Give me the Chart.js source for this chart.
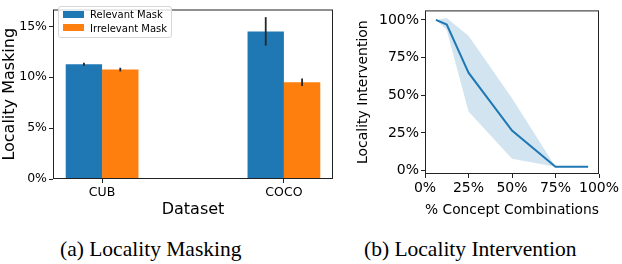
<!DOCTYPE html>
<html>
<head>
<meta charset="utf-8">
<script src="https://cdn.jsdelivr.net/npm/chart.js@4/dist/chart.umd.min.js"></script>
<style>
  html, body { margin:0; padding:0; background:#fff; }
  #wrap { position:relative; width:622px; height:264px; overflow:hidden; }
  canvas { position:absolute; top:0; }
  #c1 { left:0; }
  #c2 { left:340px; }
  .legend { position:absolute; left:58px; top:6px; width:112px; height:30px; border:1px solid #d6d6d6; border-radius:3px; background:rgba(255,255,255,0.8); font-family:"DejaVu Sans"; font-size:10px; color:#000; }
  .legend .row { position:absolute; left:4px; height:12px; line-height:12px; white-space:nowrap; }
  .legend .sw { display:inline-block; width:21px; height:7px; vertical-align:middle; margin-right:6px; position:relative; top:-1px; }
  .cap { position:absolute; top:239px; font-family:"Liberation Serif"; font-size:21.5px; line-height:21px; color:#000; white-space:nowrap; }
</style>
</head>
<body>
<div id="wrap">
  <canvas id="c1" width="340" height="222"></canvas>
  <canvas id="c2" width="282" height="222"></canvas>
  <div class="legend" id="legend"></div>
  <div class="cap" style="left:60px">(a) Locality Masking</div>
  <div class="cap" style="left:364px">(b) Locality Intervention</div>
</div>
<script>
// ---- Data: Locality Masking ----
const categories = ['CUB', 'COCO'];
const relevantMask = [11.28, 14.5];
const relevantErr = [0.15, 1.4];
const irrelevantMask = [10.75, 9.5];
const irrelevantErr = [0.18, 0.36];
const maskTicks = [0, 5, 10, 15];

// ---- Data: Locality Intervention ----
const combos = [6.25, 12.5, 25, 50, 75, 93.75];
const intervention = [100, 96.9, 65, 26.5, 2.5, 2.5];
const interventionUpper = [100, 101.2, 89.4, 48, 2.5, 2.5];
const interventionLower = [100, 93.3, 39.2, 7.8, 2.5, 2.5];
const pctTicks = [0, 25, 50, 75, 100];

const BLUE = '#1f77b4', ORANGE = '#ff7f0e', BAND = 'rgba(31,119,180,0.2)';
const FONT = 'DejaVu Sans';
Chart.defaults.color = '#000';
Chart.defaults.font.family = FONT;

const errorBars = {
  id: 'errorBars',
  afterDatasetsDraw(chart) {
    const ctx = chart.ctx, ys = chart.scales.y;
    chart.data.datasets.forEach((ds, di) => {
      if (!ds.errors) return;
      chart.getDatasetMeta(di).data.forEach((bar, i) => {
        const v = ds.data[i].y, e = ds.errors[i];
        ctx.save();
        ctx.strokeStyle = '#262626';
        ctx.lineWidth = 1.8;
        ctx.beginPath();
        ctx.moveTo(bar.x, ys.getPixelForValue(v + e));
        ctx.lineTo(bar.x, ys.getPixelForValue(v - e));
        ctx.stroke();
        ctx.restore();
      });
    });
  }
};
const frame = {
  id: 'frame',
  afterDatasetsDraw(chart) {
    const {left, top, right, bottom} = chart.chartArea;
    const ctx = chart.ctx;
    ctx.save();
    ctx.strokeStyle = '#222';
    ctx.lineWidth = 1;
    ctx.strokeRect(left + 0.5, top + 0.5, right - left - 1, bottom - top - 1);
    ctx.restore();
  }
};

function gridOpts() {
  return { offset: false, drawOnChartArea: false, drawTicks: true, tickLength: 4, color: '#222', tickColor: '#222' };
}

// ---- Chart 1 ----
new Chart(document.getElementById('c1'), {
  type: 'bar',
  data: {
    datasets: [
      { label: 'Relevant Mask', data: categories.map((c, i) => ({x: i, y: relevantMask[i]})), errors: relevantErr, backgroundColor: BLUE, borderWidth: 0 },
      { label: 'Irrelevant Mask', data: categories.map((c, i) => ({x: i, y: irrelevantMask[i]})), errors: irrelevantErr, backgroundColor: ORANGE, borderWidth: 0 }
    ]
  },
  options: {
    responsive: false, animation: false, devicePixelRatio: 1,
    categoryPercentage: 0.4, barPercentage: 1.0,
    layout: { padding: { top: 1, right: 7, left: 0, bottom: 0 } },
    plugins: { legend: { display: false }, tooltip: { enabled: false } },
    scales: {
      x: {
        type: 'linear', min: -0.27, max: 1.27, offset: false,
        afterBuildTicks: s => { s.ticks = categories.map((c, i) => ({value: i})); },
        afterFit: s => { s.height = 43; },
        ticks: { callback: v => categories[v], font: { size: 12.5 }, padding: 2, maxRotation: 0 },
        grid: gridOpts(), border: { display: false },
        title: { display: true, text: 'Dataset', font: { size: 16 }, padding: { top: 0, bottom: 3 } }
      },
      y: {
        min: 0, max: 16.65,
        afterBuildTicks: s => { s.ticks = maskTicks.map(v => ({value: v})); },
        afterFit: s => { s.width = 53; },
        ticks: { callback: v => v + '%', font: { size: 12.5 }, padding: 2 },
        grid: gridOpts(), border: { display: false },
        title: { display: true, text: 'Locality Masking', font: { size: 16 }, padding: { top: 0, bottom: 0 } }
      }
    }
  },
  plugins: [errorBars, frame]
});

// legend (HTML, inside plot area)
const legendItems = [['Relevant Mask', BLUE], ['Irrelevant Mask', ORANGE]];
const lg = document.getElementById('legend');
legendItems.forEach(([t, c], i) => {
  const r = document.createElement('div');
  r.className = 'row';
  r.style.top = (2 + i * 13.5) + 'px';
  r.innerHTML = '<span class="sw" style="background:' + c + '"></span>' + t;
  lg.appendChild(r);
});

// ---- Chart 2 ----
new Chart(document.getElementById('c2'), {
  type: 'line',
  data: {
    datasets: [
      { label: 'mean', data: combos.map((x, i) => ({x, y: intervention[i]})), borderColor: BLUE, borderWidth: 2, pointRadius: 0, fill: false, tension: 0 },
      { label: 'upper', data: combos.map((x, i) => ({x, y: interventionUpper[i]})), borderWidth: 0, borderColor: 'rgba(0,0,0,0)', backgroundColor: BAND, pointRadius: 0, fill: '+1', tension: 0 },
      { label: 'lower', data: combos.map((x, i) => ({x, y: interventionLower[i]})), borderWidth: 0, borderColor: 'rgba(0,0,0,0)', pointRadius: 0, fill: false, tension: 0 }
    ]
  },
  options: {
    responsive: false, animation: false, devicePixelRatio: 1,
    layout: { padding: { top: 1, right: 23, left: 0, bottom: 0 } },
    plugins: { legend: { display: false }, tooltip: { enabled: false } },
    scales: {
      x: {
        type: 'linear', min: 0, max: 100,
        afterBuildTicks: s => { s.ticks = pctTicks.map(v => ({value: v})); },
        afterFit: s => { s.height = 48; },
        ticks: { callback: v => v + '%', font: { size: 14 }, padding: 2, maxRotation: 0 },
        grid: gridOpts(), border: { display: false },
        title: { display: true, text: '% Concept Combinations', font: { size: 14.5 }, padding: { top: 0, bottom: 3 } }
      },
      y: {
        type: 'linear', min: -2.3, max: 106.3,
        afterBuildTicks: s => { s.ticks = pctTicks.map(v => ({value: v})); },
        afterFit: s => { s.width = 85; },
        ticks: { callback: v => v + '%', font: { size: 14 }, padding: 2 },
        grid: gridOpts(), border: { display: false },
        title: { display: true, text: 'Locality Intervention', font: { size: 14 }, padding: { top: 15, bottom: 0 } }
      }
    }
  },
  plugins: [frame]
});
</script>
</body>
</html>
